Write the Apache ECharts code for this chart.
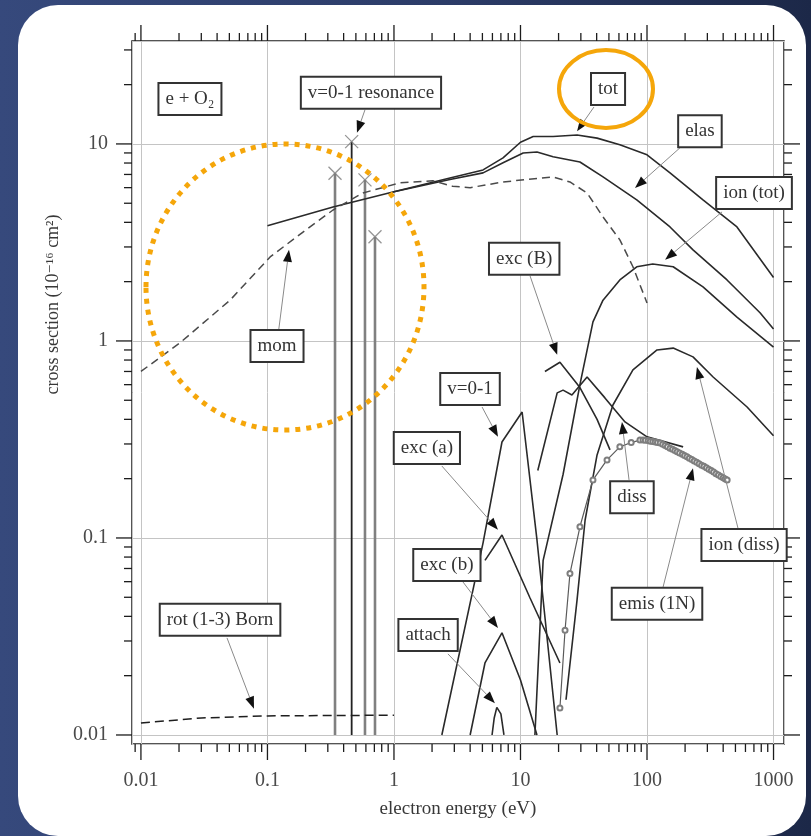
<!DOCTYPE html>
<html>
<head>
<meta charset="utf-8">
<title>e + O2 cross sections</title>
<script src="https://cdn.jsdelivr.net/npm/echarts@6/dist/echarts.min.js"></script>
<style>
  html, body { margin: 0; padding: 0; width: 811px; height: 836px; overflow: hidden;
    background: linear-gradient(90deg, #36497c 0%, #2c3c68 55%, #1c2848 100%); }
  #card { position: absolute; left: 18px; top: 5px; width: 788px; height: 831px;
    background: #ffffff; border-radius: 40px; }
  #chart { position: absolute; left: 0; top: 0; width: 811px; height: 836px; }
</style>
</head>
<body>
<div id="card"></div>
<div id="chart"></div>
<script>
// ---------- axes ----------
const X_MIN = 0.0085, X_MAX = 1210;
const Y_MIN = 0.009, Y_MAX = 33.3;
const xTickValues = [0.01, 0.1, 1, 10, 100, 1000];
const xTickLabels = ['0.01', '0.1', '1', '10', '100', '1000'];
const yTickValues = [0.01, 0.1, 1, 10];
const yTickLabels = ['0.01', '0.1', '1', '10'];
const minorDigits = [2, 3, 4, 5, 6, 7, 8, 9];

// ---------- cross sections (energy in eV, sigma in 1e-16 cm^2) ----------
const totE = [0.1, 0.33, 0.98, 2.77, 5.06, 7.28, 10, 12.6, 18.1, 28, 40.3, 61, 100, 152, 277, 514, 1000];
const totS = [3.84, 4.79, 5.70, 6.71, 7.38, 8.49, 10.2, 10.9, 10.9, 11.1, 10.7, 9.9, 8.8, 7.13, 5.2, 3.79, 2.1];

const elasE = [0.98, 2.77, 5.06, 7.28, 10.5, 13.5, 18.1, 29.5, 44.9, 83, 152, 231, 429, 782, 1000];
const elasS = [5.70, 6.6, 7.13, 8.02, 9.0, 9.1, 8.6, 8.1, 6.8, 5.2, 3.79, 2.9, 2.04, 1.39, 1.15];

const momE = [0.01, 0.0203, 0.0506, 0.105, 0.191, 0.33, 0.569, 1.11, 2.03, 2.9, 4.0, 7.28, 14.3, 18.1, 24.6, 33.6, 44.9, 61, 77.4, 100];
const momS = [0.70, 0.977, 1.61, 2.67, 3.57, 4.62, 5.64, 6.34, 6.5, 6.1, 6.0, 6.41, 6.71, 6.8, 6.41, 5.64, 4.26, 3.26, 2.38, 1.56];

const rotE = [0.01, 0.03, 0.1, 1.0];
const rotS = [0.0115, 0.0122, 0.0125, 0.0126];

const resE = [0.342, 0.463, 0.590, 0.708];
const resS = [7.10, 10.27, 6.57, 3.38];
const resBase = 0.01;

const vibE = [2.39, 5.06, 7.14, 10.3, 13.5, 15.6, 19.5];
const vibS = [0.01, 0.0945, 0.307, 0.436, 0.0977, 0.0397, 0.01];

const excAE = [5.24, 7.14, 11.9, 20.5];
const excAS = [0.077, 0.1035, 0.0496, 0.0232];

const excbE = [4.0, 5.24, 7.14, 10, 13.5];
const excbS = [0.01, 0.0232, 0.033, 0.019, 0.01];

const attachE = [5.96, 6.2, 6.5, 6.7, 7.0, 7.4];
const attachS = [0.01, 0.0122, 0.0138, 0.0141, 0.0128, 0.01];

const excBE = [15.6, 20.5, 29.5, 40.3, 51];
const excBS = [0.70, 0.78, 0.58, 0.40, 0.28];

const dissE = [13.7, 19.5, 21.7, 25.5, 33.6, 46.5, 67, 100, 193];
const dissS = [0.22, 0.545, 0.563, 0.532, 0.656, 0.514, 0.388, 0.326, 0.29];

const ionTotE = [13.0, 15.1, 21.7, 29.5, 37.4, 44.9, 61, 83, 111, 161, 277, 514, 1000];
const ionTotS = [0.01, 0.077, 0.21, 0.6, 1.25, 1.61, 2.04, 2.38, 2.46, 2.38, 1.88, 1.32, 0.93];

const ionDissE = [22.9, 28.0, 32.4, 40.3, 53.8, 77.4, 120, 161, 231, 333, 618, 1000];
const ionDissS = [0.0151, 0.0485, 0.123, 0.264, 0.473, 0.713, 0.90, 0.92, 0.83, 0.656, 0.462, 0.33];

const emisE = [20.5, 22.5, 24.6, 29.5, 37.4, 48.3, 61, 75, 88, 93, 97, 102, 106, 111, 116, 121, 127, 133, 139, 145, 152, 159, 166, 173, 181, 190, 198, 207, 216, 226, 236, 247, 258, 270, 282, 295, 308, 322, 336, 351, 367, 383, 400, 415, 430];
const emisS = [0.0137, 0.034, 0.066, 0.114, 0.197, 0.249, 0.29, 0.305, 0.314, 0.314, 0.313, 0.312, 0.31, 0.309, 0.307, 0.305, 0.303, 0.299, 0.295, 0.29, 0.285, 0.282, 0.278, 0.274, 0.27, 0.266, 0.262, 0.258, 0.254, 0.25, 0.246, 0.242, 0.238, 0.234, 0.231, 0.227, 0.223, 0.22, 0.216, 0.212, 0.209, 0.205, 0.202, 0.199, 0.197];

// ---------- labels with leader arrows (anchor points in data units) ----------
const annotations = [
  { text: 'e + O\u2082', box: [0.0244, 16.9] },
  { text: 'v=0-1 resonance', box: [0.658, 18.2], tail: [0.590, 14.9], tip: [0.510, 11.4] },
  { text: 'tot', box: [49.2, 19.0], tail: [38.1, 15.4], tip: [28.0, 11.6] },
  { text: 'elas', box: [262, 11.6], tail: [182, 9.55], tip: [80.4, 5.98] },
  { text: 'ion (tot)', box: [701, 5.64], tail: [392, 4.52], tip: [139, 2.58] },
  { text: 'exc (B)', box: [10.7, 2.61], tail: [11.9, 2.14], tip: [19.5, 0.85] },
  { text: 'mom', box: [0.119, 0.944], tail: [0.123, 1.15], tip: [0.148, 2.90] },
  { text: 'v=0-1', box: [3.99, 0.570], tail: [4.97, 0.462], tip: [6.64, 0.326] },
  { text: 'exc (a)', box: [1.82, 0.286], tail: [2.39, 0.232], tip: [6.64, 0.110] },
  { text: 'diss', box: [76, 0.161], tail: [72.1, 0.197], tip: [63.4, 0.388] },
  { text: 'ion (diss)', box: [585, 0.092], tail: [524, 0.112], tip: [248, 0.738] },
  { text: 'exc (b)', box: [2.62, 0.073], tail: [3.51, 0.0598], tip: [6.64, 0.0349] },
  { text: 'emis (1N)', box: [120, 0.0463], tail: [134, 0.0564], tip: [231, 0.226] },
  { text: 'attach', box: [1.86, 0.0322], tail: [2.67, 0.0258], tip: [6.28, 0.0145] },
  { text: 'rot (1-3) Born', box: [0.0422, 0.0384], tail: [0.0479, 0.0311], tip: [0.0782, 0.0136] }
];

// ---------- drawing ----------
const FONT = '"Liberation Serif", "Times New Roman", "DejaVu Serif", serif';
const INK = '#2a2a2a';
const zip = (E, S) => E.map((e, i) => [e, S[i]]);

function decadeLabel(v, vals, labs) {
  for (let i = 0; i < vals.length; i++) {
    if (Math.abs(Math.log10(v) - Math.log10(vals[i])) < 1e-6) return labs[i];
  }
  return '';
}

function curve(name, E, S, style, extra) {
  return Object.assign({
    name: name, type: 'line', data: zip(E, S),
    symbol: 'none', showSymbol: false, smooth: false, z: 3,
    lineStyle: Object.assign({ color: INK, width: 1.6 }, style || {})
  }, extra || {});
}

const series = [
  curve('tot', totE, totS),
  curve('elas', elasE, elasS),
  curve('mom', momE, momS, { color: '#4a4a4a', width: 1.5, type: [8, 5] }),
  curve('rot (1-3) Born', rotE, rotS, { color: '#1e1e1e', width: 1.5, type: [9, 5] }),
  curve('v=0-1', vibE, vibS),
  curve('exc (a)', excAE, excAS),
  curve('exc (b)', excbE, excbS),
  curve('attach', attachE, attachS),
  curve('exc (B)', excBE, excBS),
  curve('diss', dissE, dissS),
  curve('ion (tot)', ionTotE, ionTotS),
  curve('ion (diss)', ionDissE, ionDissS),
  curve('emis (1N)', emisE, emisS, { color: '#5a5a5a', width: 1.2 }, {
    symbol: 'emptyCircle', showSymbol: true, showAllSymbol: true, symbolSize: 5,
    itemStyle: { color: '#7e7e7e', borderColor: '#7e7e7e', borderWidth: 1 }
  })
];

// resonance peaks: vertical lines from the floor up to each peak, crossed at the top
resE.forEach((e, i) => {
  series.push({
    name: 'v=0-1 resonance', type: 'line', data: [[e, resBase], [e, resS[i]]],
    symbol: 'none', z: 2,
    lineStyle: i === 1 ? { color: '#222', width: 1.8 } : { color: '#808080', width: 2.6 }
  });
});
series.push({
  name: 'v=0-1 resonance', type: 'scatter', data: zip(resE, resS), z: 4,
  symbol: 'path://M0,0L10,10M10,0L0,10', symbolSize: 13,
  itemStyle: { color: 'transparent', borderColor: '#7a7a7a', borderWidth: 1.3 }
});

const chart = echarts.init(document.getElementById('chart'), null, { renderer: 'canvas' });

chart.setOption({
  animation: false,
  backgroundColor: 'transparent',
  grid: { left: 132, top: 41, width: 652, height: 703, show: true,
          borderColor: '#1c1c1c', borderWidth: 1.5, backgroundColor: 'transparent',
          outerBoundsMode: 'none', containLabel: false },
  xAxis: {
    type: 'log', logBase: 10, min: X_MIN, max: X_MAX,
    name: 'electron energy (eV)', nameLocation: 'middle', nameGap: 56,
    nameTextStyle: { fontFamily: FONT, fontSize: 19, color: '#383838' },
    axisLine: { show: false }, axisTick: { show: false },
    axisLabel: { margin: 27, fontFamily: FONT, fontSize: 20, color: '#4a4a4a',
                 formatter: v => decadeLabel(v, xTickValues, xTickLabels) },
    splitLine: { show: true, lineStyle: { color: '#c4c4c4', width: 1 } },
    minorTick: { show: false }, minorSplitLine: { show: false }
  },
  yAxis: {
    type: 'log', logBase: 10, min: Y_MIN, max: Y_MAX,
    name: 'cross section (10\u207B\u00B9\u2076 cm\u00B2)', nameLocation: 'middle', nameGap: 67,
    nameTextStyle: { fontFamily: FONT, fontSize: 18, color: '#383838', padding: [0, 0, 0, 176] },
    axisLine: { show: false }, axisTick: { show: false },
    axisLabel: { margin: 24, fontFamily: FONT, fontSize: 20, color: '#4a4a4a',
                 formatter: v => decadeLabel(v, yTickValues, yTickLabels) },
    splitLine: { show: true, lineStyle: { color: '#c4c4c4', width: 1 } },
    minorTick: { show: false }, minorSplitLine: { show: false }
  },
  series: series
});

// ---------- ticks, label boxes, arrows, highlight rings ----------
function buildOverlay() {
  const P = p => chart.convertToPixel({ gridIndex: 0 }, p);
  const [L, B] = P([X_MIN, Y_MIN]);
  const [R, T] = P([X_MAX, Y_MAX]);
  const els = [];
  const tickStyle = { stroke: '#1c1c1c', lineWidth: 1.3 };
  const MAJ = 16, MIN = 8;

  const minorVals = (lo, hi) => {
    const out = [];
    for (let k = -4; k <= 4; k++) {
      minorDigits.forEach(m => {
        const v = parseFloat((m * Math.pow(10, k)).toPrecision(6));
        if (v > lo * 1.0001 && v < hi * 0.9999) out.push(v);
      });
    }
    return out;
  };

  const addX = (v, len) => {
    const x = P([v, 1])[0];
    els.push({ type: 'line', silent: true, z: 5, shape: { x1: x, y1: B, x2: x, y2: B + len }, style: tickStyle });
    els.push({ type: 'line', silent: true, z: 5, shape: { x1: x, y1: T, x2: x, y2: T - len }, style: tickStyle });
  };
  const addY = (v, len) => {
    const y = P([1, v])[1];
    els.push({ type: 'line', silent: true, z: 5, shape: { x1: L - len, y1: y, x2: L, y2: y }, style: tickStyle });
    els.push({ type: 'line', silent: true, z: 5, shape: { x1: R, y1: y, x2: R + len, y2: y }, style: tickStyle });
  };
  xTickValues.forEach(v => addX(v, MAJ));
  minorVals(X_MIN, X_MAX).forEach(v => addX(v, MIN));
  yTickValues.forEach(v => addY(v, MAJ));
  minorVals(Y_MIN, Y_MAX).forEach(v => addY(v, MIN));

  annotations.forEach(a => {
    const c = P(a.box);
    if (a.tail && a.tip) {
      const t = P(a.tail), p = P(a.tip);
      const dx = p[0] - t[0], dy = p[1] - t[1];
      const len = Math.hypot(dx, dy) || 1;
      const ux = dx / len, uy = dy / len;
      const head = 12, half = 4.5;
      const bx = p[0] - ux * head, by = p[1] - uy * head;
      els.push({ type: 'line', silent: true, z: 6,
        shape: { x1: t[0], y1: t[1], x2: bx, y2: by },
        style: { stroke: '#8a8a8a', lineWidth: 1 } });
      els.push({ type: 'polygon', silent: true, z: 7,
        shape: { points: [[p[0], p[1]], [bx - uy * half, by + ux * half], [bx + uy * half, by - ux * half]] },
        style: { fill: '#111' } });
    }
    els.push({ type: 'text', silent: true, z: 8, x: c[0], y: c[1],
      style: { legacy: false, text: a.text, font: '19px ' + FONT, fill: '#333',
               align: 'center', verticalAlign: 'middle',
               backgroundColor: '#ffffff', borderColor: '#333', borderWidth: 2,
               padding: [6, 6, 5, 6] } });
  });

  // highlight rings
  els.push({ type: 'ellipse', silent: true, z: 20,
    shape: { cx: 606, cy: 89, rx: 47, ry: 39 },
    style: { fill: 'none', stroke: '#f5a60a', lineWidth: 4 } });
  els.push({ type: 'ellipse', silent: true, z: 20,
    shape: { cx: 285, cy: 287, rx: 139, ry: 143 },
    style: { fill: 'none', stroke: '#f5a60a', lineWidth: 5, lineDash: [5, 6] } });

  chart.setOption({ graphic: { elements: els } });
}
buildOverlay();
</script>
</body>
</html>
